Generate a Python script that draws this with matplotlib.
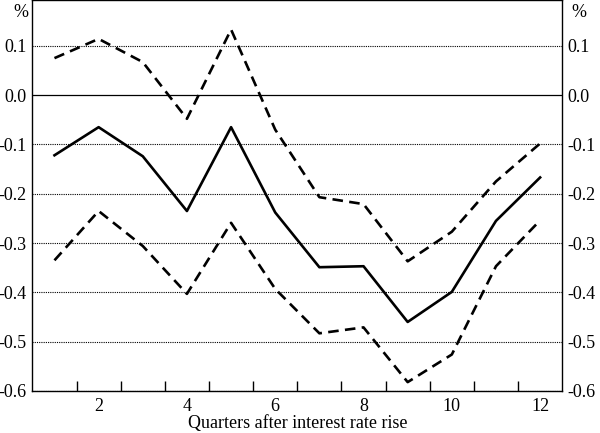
import numpy as np
import matplotlib
matplotlib.use("Agg")
import matplotlib.pyplot as plt

# Data
quarters = np.arange(1, 13)
central = [-0.122, -0.065, -0.124, -0.235, -0.065, -0.238,
           -0.349, -0.347, -0.460, -0.399, -0.255, -0.167]
upper = [0.075, 0.114, 0.067, -0.048, 0.133, -0.070,
         -0.207, -0.221, -0.337, -0.277, -0.175, -0.098]
lower = [-0.335, -0.235, -0.306, -0.403, -0.259, -0.393,
         -0.483, -0.471, -0.582, -0.526, -0.347, -0.254]
yticks = [0.1, 0.0, -0.1, -0.2, -0.3, -0.4, -0.5, -0.6]
xlabels = [2, 4, 6, 8, 10, 12]

plt.rcParams['font.family'] = ['Liberation Serif', 'DejaVu Serif']
plt.rcParams['font.size'] = 13

fig = plt.figure(figsize=(6.0, 4.33), dpi=100)
ax = fig.add_axes([0.054, 0.097, 0.883, 0.902])

# grid lines (dotted) and the zero line
for v in yticks:
    if v == 0.0:
        ax.axhline(v, color='black', lw=0.9, zorder=1)
    else:
        ax.axhline(v, color='black', lw=0.8, ls=(0, (1, 1)), zorder=1)

ax.plot(quarters, central, color='black', lw=1.9, zorder=3)
ax.plot(quarters, upper, color='black', lw=1.9, dashes=(4, 2.4), zorder=3)
ax.plot(quarters, lower, color='black', lw=1.9, dashes=(4, 2.4), zorder=3)

ax.set_xlim(0.5, 12.5)
ax.set_ylim(-0.6, 0.192)

# x: ticks between quarters, labels on the quarters
ax.set_xticks(np.arange(1.5, 12.5, 1.0))
ax.set_xticklabels([])
ax.tick_params(axis='x', which='major', direction='in', length=7, width=1)
ax.set_xticks(xlabels, minor=True)
ax.set_xticklabels([str(v) for v in xlabels], minor=True)
ax.tick_params(axis='x', which='minor', length=0, pad=5)

# y labels on both sides, no tick marks
ax.set_yticks(yticks)
ax.set_yticklabels(['%.1f' % v for v in yticks])
ax.tick_params(axis='y', which='both', length=0, pad=4,
               left=True, right=True, labelleft=True, labelright=True)

for s in ax.spines.values():
    s.set_linewidth(1.0)

fig.text(0.022, 0.99, '%', ha='left', va='top')
fig.text(0.952, 0.99, '%', ha='left', va='top')
ax.set_xlabel('Quarters after interest rate rise', labelpad=0)

fig.savefig('out.png', dpi=100)
